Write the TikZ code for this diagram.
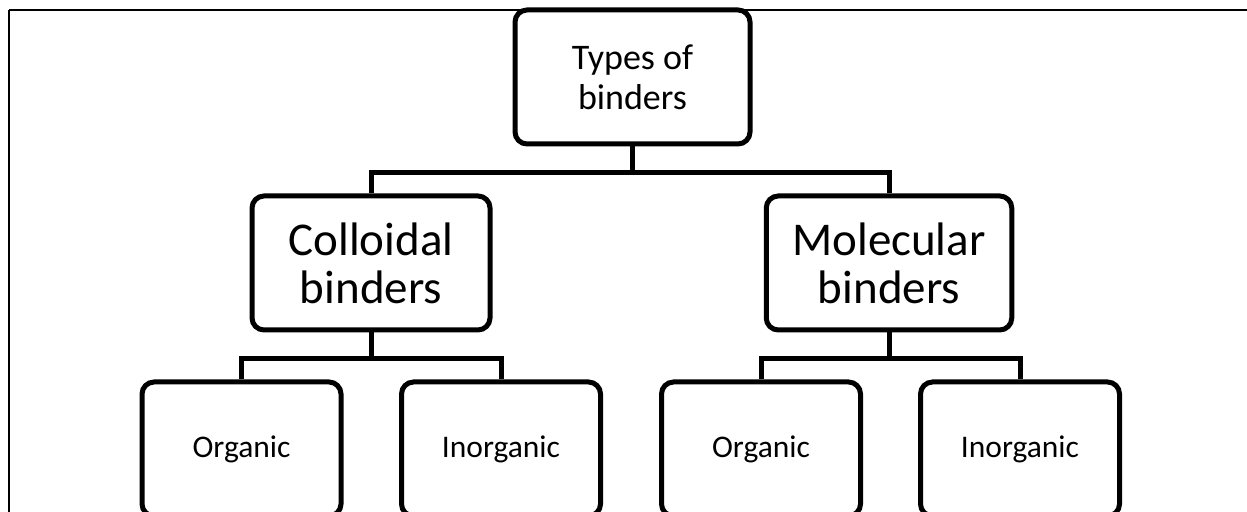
\documentclass[tikz,border=0pt]{standalone}
\usepackage{fontspec}
\setmainfont{Carlito}
\begin{document}
\begin{tikzpicture}[x=0.5pt,y=-0.5pt,
  box/.style={draw,line width=2.5pt,rounded corners=6pt,align=center,inner sep=0pt,minimum height=67pt},
  big/.style={box,font=\fontsize{18}{20}\selectfont},
  mid/.style={box,font=\fontsize{23.5}{24}\selectfont},
  small/.style={box,font=\fontsize{15.75}{18}\selectfont,minimum width=99.5pt},
  link/.style={line width=2.5pt}]
\useasboundingbox (0,0) rectangle (1247,512);
\clip (0,0) rectangle (1247,512);
\draw[line width=0.6pt] (9,10) -- (1247,10);
\draw[line width=1.3pt] (9,10) -- (9,512);
\node[big,minimum width=117.5pt] (top) at (632.5,77) {Types of\\binders};
\node[mid,minimum width=119pt] (col) at (371,263) {Colloidal\\binders};
\node[mid,minimum width=122.75pt] (mol) at (889,263) {Molecular\\binders};
\node[small] (o1) at (241.5,449) {Organic};
\node[small] (i1) at (501,449) {Inorganic};
\node[small] (o2) at (761,449) {Organic};
\node[small] (i2) at (1020,449) {Inorganic};
\draw[link] (top.south) -- ++(0,-13pt) -| (col.north);
\draw[link] (top.south) -- ++(0,-13pt) -| (mol.north);
\draw[link] (col.south) -- ++(0,-13pt) -| (o1.north);
\draw[link] (col.south) -- ++(0,-13pt) -| (i1.north);
\draw[link] (mol.south) -- ++(0,-13pt) -| (o2.north);
\draw[link] (mol.south) -- ++(0,-13pt) -| (i2.north);
\end{tikzpicture}
\end{document}
